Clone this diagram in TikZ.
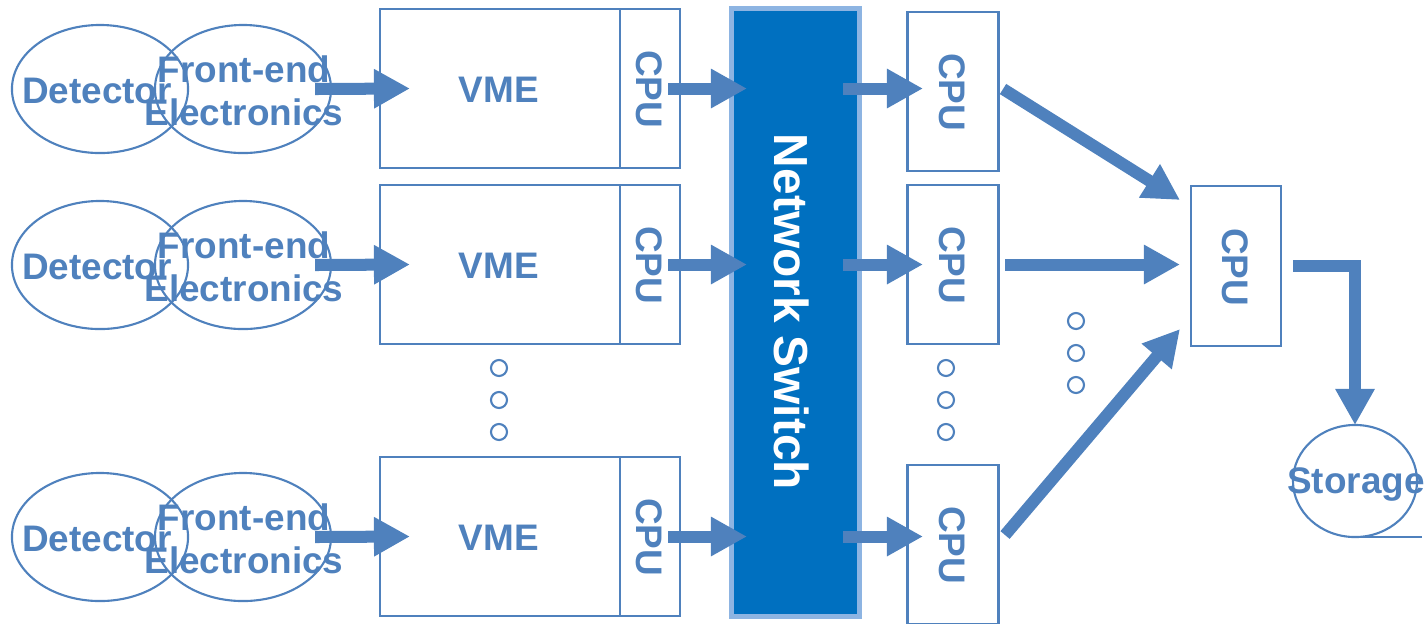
\documentclass[tikz,border=0pt]{standalone}
\usepackage{fontspec}
\setmainfont{Liberation Sans}
\usetikzlibrary{arrows.meta,shapes.geometric}
\definecolor{ppblue}{RGB}{79,129,189}
\definecolor{swblue}{RGB}{0,112,192}
\definecolor{swedge}{RGB}{141,180,226}
\begin{document}
\begin{tikzpicture}[x=0.01cm,y=-0.01cm,
  every node/.style={inner sep=0pt,outer sep=0pt},
  lbl/.style={text=ppblue,font=\fontsize{10.5}{12.2}\selectfont\bfseries,align=center},
  blob/.style={ellipse,draw=ppblue,line width=0.6pt,minimum width=1.76cm,minimum height=1.28cm},
  vmebox/.style={rectangle,draw=ppblue,line width=0.6pt,minimum width=2.4cm,minimum height=1.59cm},
  cpubox/.style={rectangle,draw=ppblue,line width=0.6pt,minimum width=0.6cm,minimum height=1.59cm},
  nodebox/.style={rectangle,draw=ppblue,line width=0.6pt,minimum width=0.91cm,minimum height=1.59cm},
  fat/.style={ppblue,line width=0.12cm,-{Triangle[length=0.36cm,width=0.37cm]}},
  ringdot/.style={draw=ppblue,line width=0.6pt}]
\useasboundingbox (0,0) rectangle (1427,623);
% detectors and front-end electronics
\node[blob] (det1) at (100,89) {};
\node[blob] (det2) at (100,265) {};
\node[blob] (det3) at (100,537) {};
\node[blob] (fe1) at (243,89) {};
\node[blob] (fe2) at (243,265) {};
\node[blob] (fe3) at (243,537) {};
\node[lbl] at (97,91) {Detector};
\node[lbl] at (97,267) {Detector};
\node[lbl] at (97,539) {Detector};
\node[lbl] at (244,91) {Front-end\\Electronics};
\node[lbl] at (244,267) {Front-end\\Electronics};
\node[lbl] at (244,539) {Front-end\\Electronics};
% VME crates
\node[vmebox] (vme1) at (500,88.5) {};
\node[vmebox] (vme2) at (500,264.5) {};
\node[vmebox] (vme3) at (500,536.5) {};
\node[cpubox] (cpu1) at (650,88.5) {};
\node[cpubox] (cpu2) at (650,264.5) {};
\node[cpubox] (cpu3) at (650,536.5) {};
\node[lbl] at (499,90) {VME};
\node[lbl] at (499,266) {VME};
\node[lbl] at (499,538) {VME};
\node[lbl,rotate=-90] at (649,89) {CPU};
\node[lbl,rotate=-90] at (649,265) {CPU};
\node[lbl,rotate=-90] at (649,537) {CPU};
% switch
\node[rectangle,fill=swblue,draw=swedge,line width=0.05cm,minimum width=1.28cm,minimum height=6.08cm] (sw) at (795.5,312.5) {};
\node[rotate=-90,text=white,font=\fontsize{13.6}{16}\selectfont\bfseries] at (792,312) {Network Switch};
% farm
\node[nodebox] (rcpu1) at (953,91.5) {};
\node[nodebox] (rcpu2) at (953,264.5) {};
\node[nodebox] (rcpu3) at (953,544.5) {};
\node[lbl,rotate=-90] at (952,92) {CPU};
\node[lbl,rotate=-90] at (952,265) {CPU};
\node[lbl,rotate=-90] at (952,545) {CPU};
\node[rectangle,draw=ppblue,line width=0.6pt,minimum width=0.9cm,minimum height=1.6cm] (big) at (1236,266) {};
\node[lbl,rotate=-90] at (1235,267) {CPU};
\node[ellipse,draw=ppblue,line width=0.6pt,minimum width=1.24cm,minimum height=1.12cm] (st) at (1355,481) {};
\node[lbl] at (1356,485) {Storage};
\draw[ppblue,line width=0.6pt] (st.south) -- ++(67,0);
% dots
\draw[ringdot] (499,368) circle[radius=0.08cm];
\draw[ringdot] (499,400) circle[radius=0.08cm];
\draw[ringdot] (499,432) circle[radius=0.08cm];
\draw[ringdot] (946,368) circle[radius=0.08cm];
\draw[ringdot] (946,400) circle[radius=0.08cm];
\draw[ringdot] (946,432) circle[radius=0.08cm];
\draw[ringdot] (1076,321) circle[radius=0.08cm];
\draw[ringdot] (1076,353) circle[radius=0.08cm];
\draw[ringdot] (1076,385) circle[radius=0.08cm];
% arrows
\draw[fat] ([xshift=-0.16cm]fe1.east) -- ([xshift=0.3cm]vme1.west);
\draw[fat] ([xshift=-0.16cm]fe2.east) -- ([xshift=0.3cm]vme2.west);
\draw[fat] ([xshift=-0.16cm]fe3.east) -- ([xshift=0.3cm]vme3.west);
\draw[fat] ([xshift=-0.12cm]cpu1.east) -- ([xshift=0.155cm]cpu1.east -| sw.west);
\draw[fat] ([xshift=-0.12cm]cpu2.east) -- ([xshift=0.155cm]cpu2.east -| sw.west);
\draw[fat] ([xshift=-0.12cm]cpu3.east) -- ([xshift=0.155cm]cpu3.east -| sw.west);
\draw[fat] ([xshift=-0.165cm]sw.east |- cpu1.east) -- ([xshift=0.155cm]rcpu1.west |- cpu1.east);
\draw[fat] ([xshift=-0.165cm]sw.east |- cpu2.east) -- ([xshift=0.155cm]rcpu2.west |- cpu2.east);
\draw[fat] ([xshift=-0.165cm]sw.east |- cpu3.east) -- ([xshift=0.155cm]rcpu3.west |- cpu3.east);
\draw[fat] ([xshift=0.045cm,yshift=0.025cm]rcpu1.east) -- ([xshift=-0.11cm,yshift=-0.14cm]big.north west);
\draw[fat] ([xshift=0.065cm]rcpu2.east) -- ([xshift=-0.11cm]rcpu2.east -| big.west);
\draw[fat] ([xshift=0.065cm,yshift=0.095cm]rcpu3.east) -- ([xshift=-0.11cm,yshift=0.17cm]big.south west);
\draw[fat] ([xshift=0.12cm]big.east) -| (st.north);
\end{tikzpicture}
\end{document}
